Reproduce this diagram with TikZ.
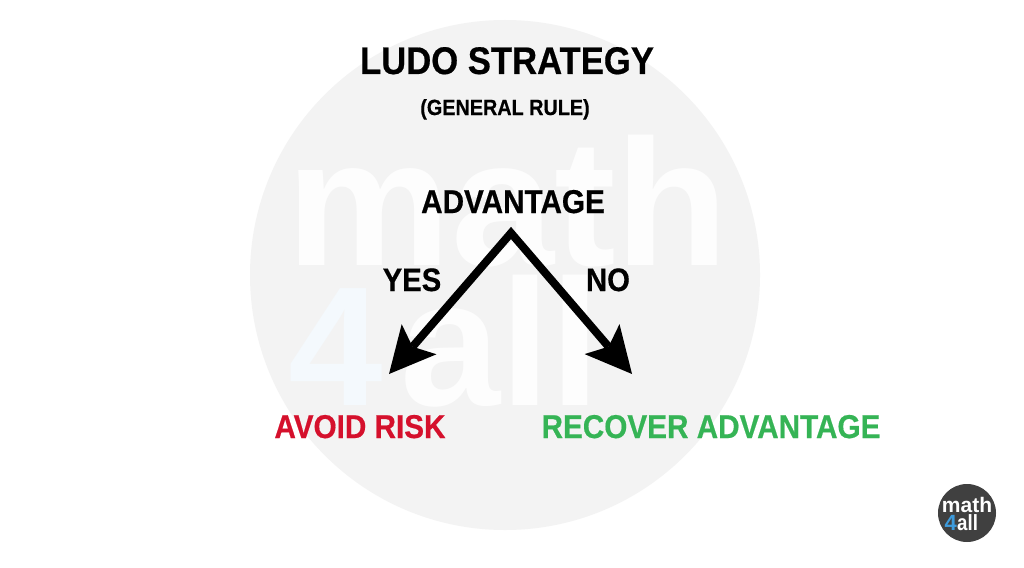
\documentclass[tikz,border=0pt]{standalone}
\usepackage{fontspec}
\setmainfont{Liberation Sans}[BoldFeatures={FakeBold=0.5}]
\newfontfamily\plainbold{Liberation Sans Bold}
\usetikzlibrary{arrows.meta}
\definecolor{wm}{HTML}{F3F3F3}
\definecolor{wmwhite}{HTML}{FDFDFD}
\definecolor{wmblue}{HTML}{F4F9FD}
\definecolor{inkred}{HTML}{D5102C}
\definecolor{inkgreen}{HTML}{35B455}
\definecolor{logogrey}{HTML}{404040}
\definecolor{logoblue}{HTML}{3D9BDC}
\tikzset{
  x=1pt,y=-1pt,
  lbl/.style={inner sep=0pt,anchor=base,xscale=.9},
  wmtext/.style={inner sep=0pt,anchor=base west},
  forkarrow/.style={line width=8pt,line join=miter,miter limit=10,
    {Stealth[length=46pt,width=46pt,inset=10pt,line width=0pt]}-{Stealth[length=46pt,width=46pt,inset=10pt,line width=0pt]}},
}
\begin{document}
\begin{tikzpicture}
\useasboundingbox (0,0) rectangle (1024,567);
\fill[white] (0,0) rectangle (1024,567);
% watermark
\fill[wm] (505,275) circle[radius=255];
\node[wmtext,wmwhite,xscale=1.03,font=\fontsize{180}{180}\selectfont\plainbold] (wmmath) at (286,265) {math};
\node[wmtext,wmblue,font=\fontsize{170}{170}\selectfont\plainbold] (wmfour) at (288,405) {4};
\node[wmtext,wmwhite,font=\fontsize{180}{180}\selectfont\plainbold] (wmall) at (400,405) {all};
% text
\node[lbl,font=\fontsize{38.5}{38.5}\selectfont\bfseries] (title) at (507,74) {LUDO STRATEGY};
\node[lbl,font=\fontsize{22}{22}\selectfont\bfseries] (sub) at (505,115) {(GENERAL RULE)};
\node[lbl,font=\fontsize{33}{33}\selectfont\bfseries] (adv) at (513,213) {ADVANTAGE};
\node[lbl,font=\fontsize{32.5}{32.5}\selectfont\bfseries] (yes) at (412,291) {YES};
\node[lbl,font=\fontsize{32.5}{32.5}\selectfont\bfseries] (no) at (608,291) {NO};
\node[lbl,inkred,font=\fontsize{33}{33}\selectfont\bfseries] (avoid) at (360,438) {AVOID RISK};
\node[lbl,inkgreen,font=\fontsize{33}{33}\selectfont\bfseries] (recover) at (711,438) {RECOVER ADVANTAGE};
% connectors
\coordinate (apex) at (511,233);
\coordinate (lefttip) at (389,374);
\coordinate (righttip) at (632,374);
\draw[forkarrow] (lefttip) -- (apex) -- (righttip);
% logo
\fill[logogrey] (967,513) circle[radius=29];
\node[inner sep=0pt,anchor=base,white,font=\fontsize{21}{21}\selectfont\plainbold] (logomath) at (967,512) {math};
\node[inner sep=0pt,anchor=base east,logoblue,font=\fontsize{22}{22}\selectfont\plainbold] (logofour) at (957,530) {4};
\node[inner sep=0pt,anchor=base west,xscale=.85,white,font=\fontsize{22}{22}\selectfont\plainbold] (logoall) at (957,530) {all};
\end{tikzpicture}
\end{document}
